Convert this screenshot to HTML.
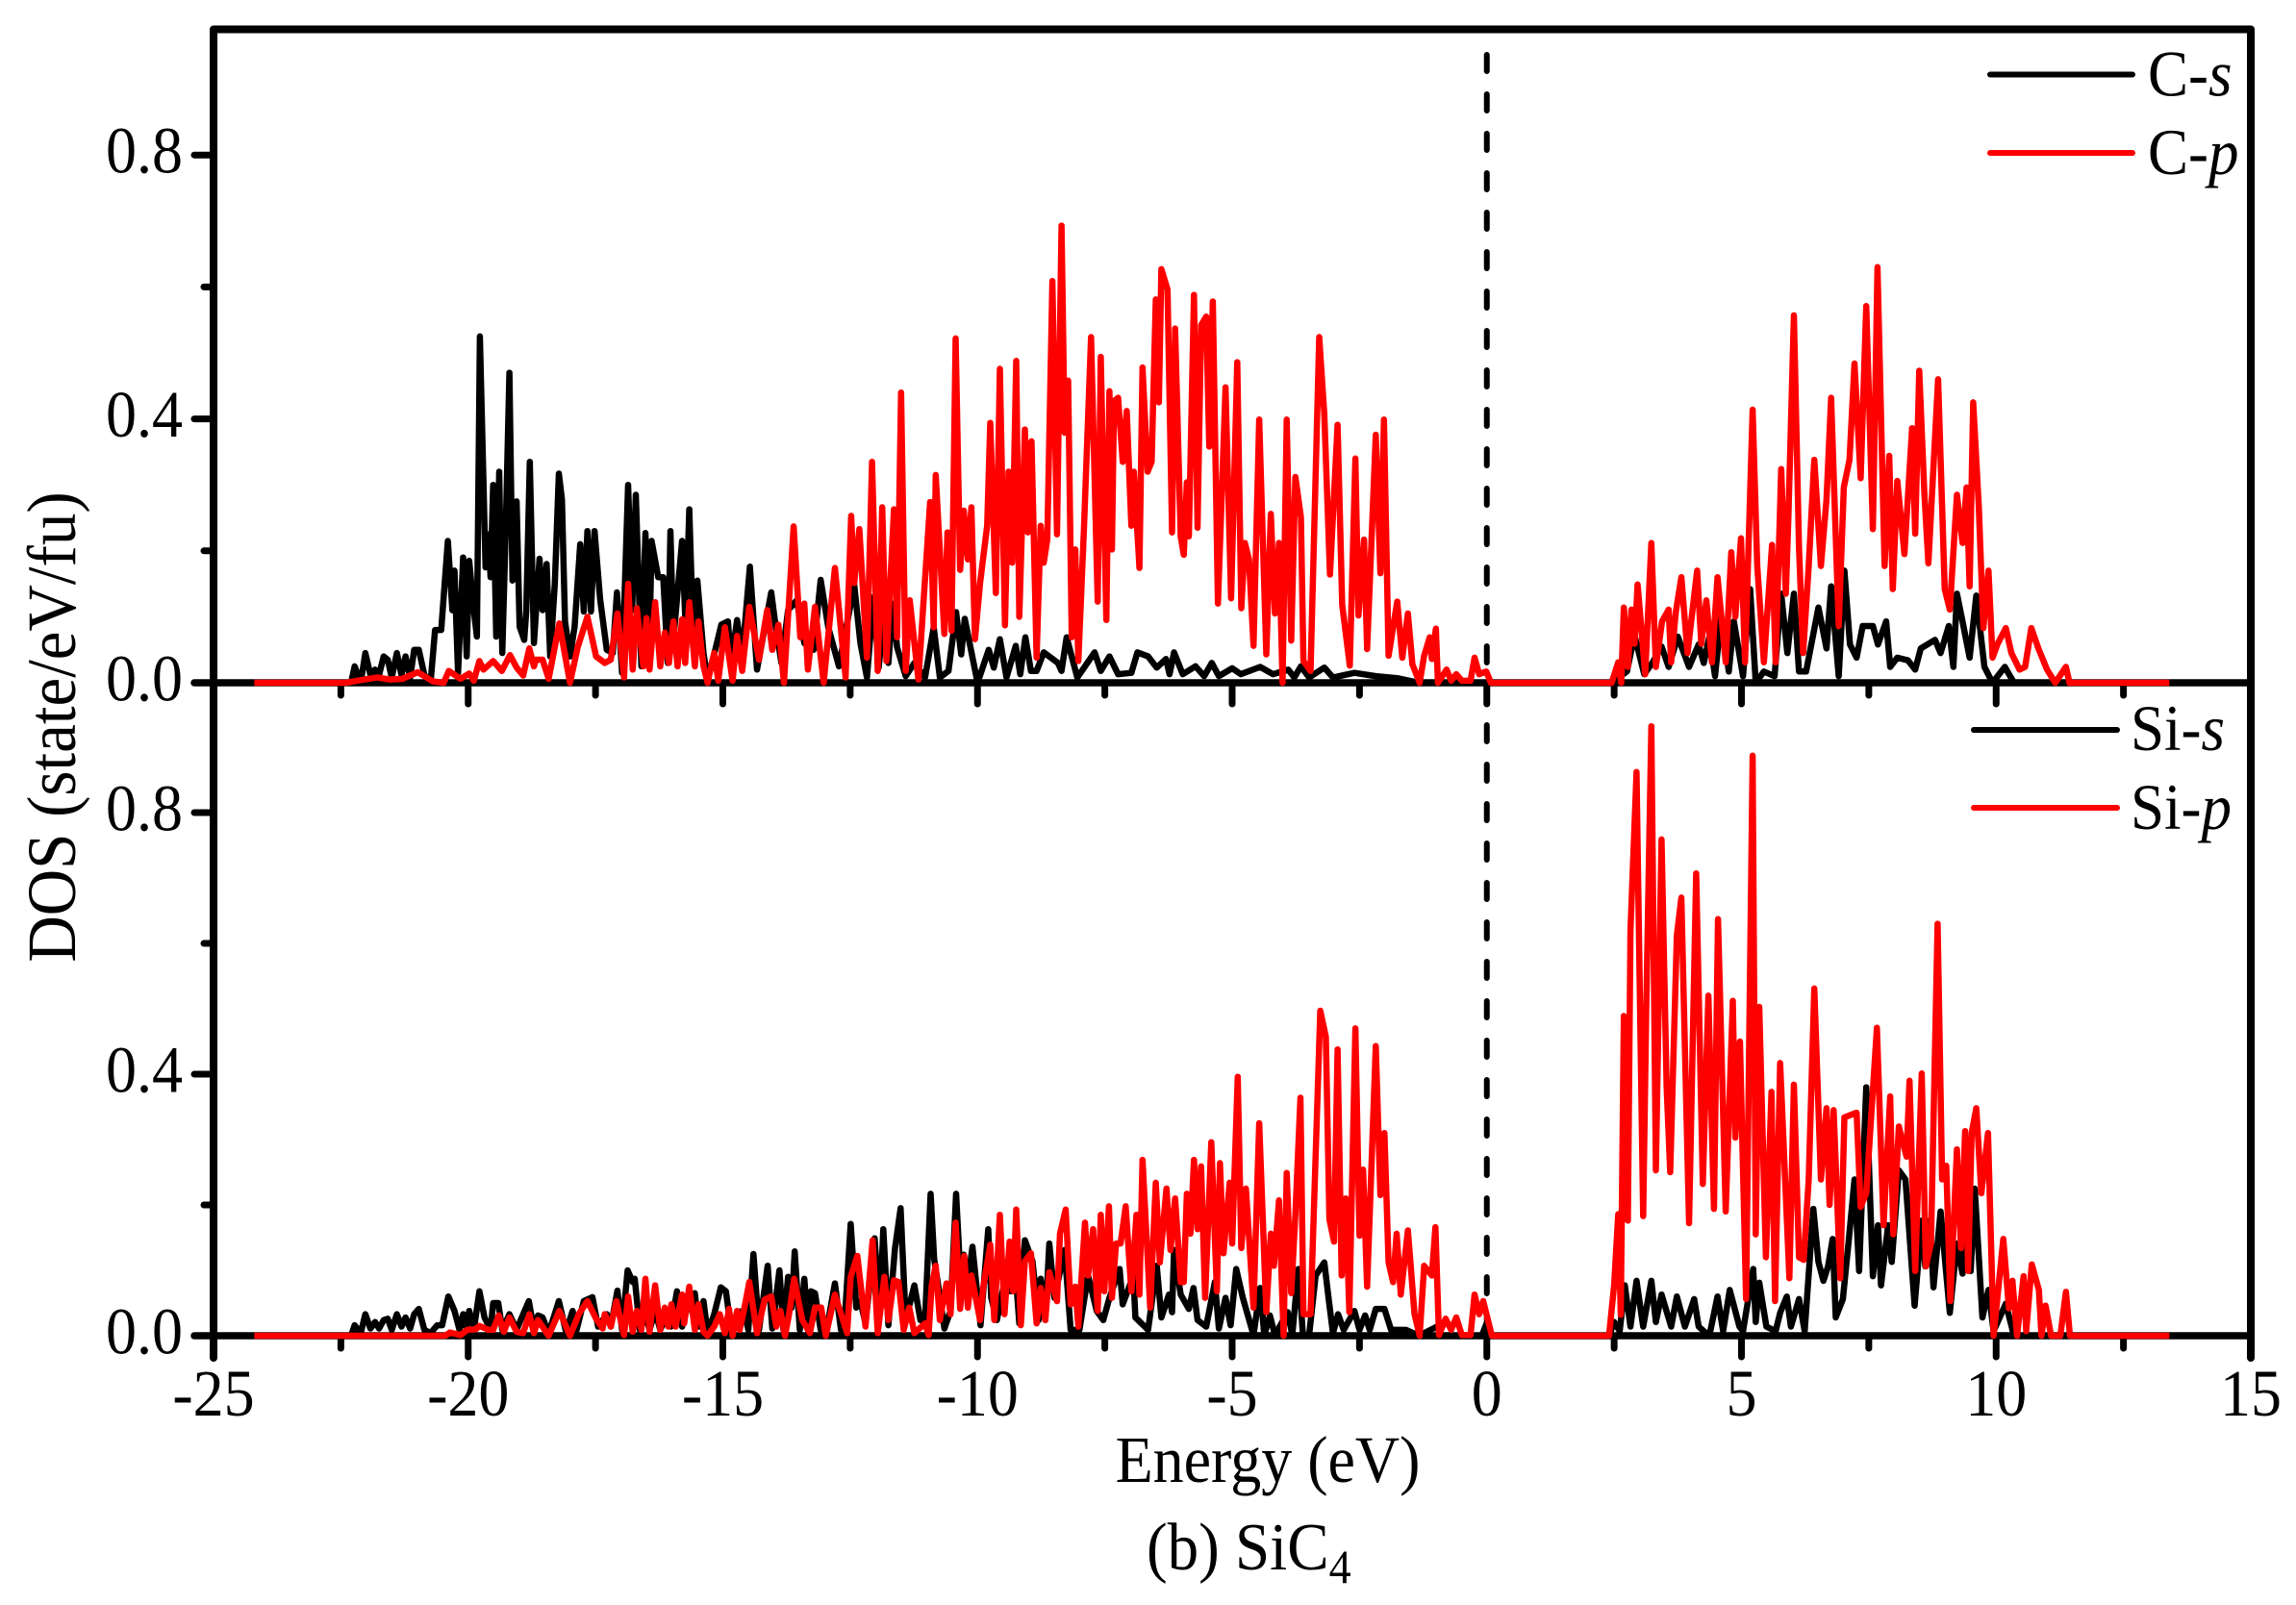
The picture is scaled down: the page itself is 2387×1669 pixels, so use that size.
<!DOCTYPE html>
<html lang="en">
<head>
<meta charset="utf-8">
<title>DOS of SiC4</title>
<style>
html,body{margin:0;padding:0;background:#fff;}
svg{display:block;}
text{font-family:"Liberation Serif",serif;fill:#000;}
</style>
</head>
<body>
<svg id="chart" xmlns="http://www.w3.org/2000/svg" width="2387" height="1669" viewBox="0 0 2387 1669">
  <rect x="0" y="0" width="2387" height="1669" fill="#fff"/>
  <g id="axes"></g>
  <g id="series"></g>
  <g>
    <line x1="2069" y1="77.5" x2="2217" y2="77.5" stroke="#000" stroke-width="6" stroke-linecap="round"/>
    <text transform="translate(2233,99.5) scale(1,1.07)" font-size="63">C-<tspan font-style="italic">s</tspan></text>
    <line x1="2069" y1="159" x2="2217" y2="159" stroke="#f00" stroke-width="6" stroke-linecap="round"/>
    <text transform="translate(2233,181) scale(1,1.07)" font-size="63">C-<tspan font-style="italic">p</tspan></text>
  </g>
  <g>
    <line x1="2052" y1="759" x2="2201" y2="759" stroke="#000" stroke-width="6" stroke-linecap="round"/>
    <text transform="translate(2215,780) scale(1,1.07)" font-size="63">Si-<tspan font-style="italic">s</tspan></text>
    <line x1="2052" y1="840" x2="2201" y2="840" stroke="#f00" stroke-width="6" stroke-linecap="round"/>
    <text transform="translate(2215,862) scale(1,1.07)" font-size="63">Si-<tspan font-style="italic">p</tspan></text>
  </g>
  <text transform="translate(78,756) rotate(-90) scale(1,1.07)" font-size="67" text-anchor="middle">DOS (state/eV/fu)</text>
  <text transform="translate(1318,1541) scale(1,1.07)" font-size="64" text-anchor="middle">Energy (eV)</text>
  <text transform="translate(1192,1632) scale(1,1.07)" font-size="65">(b) SiC<tspan font-size="46" dy="13">4</tspan></text>
</svg>
<script>
const xTickValues = [-25,-22.5,-20,-17.5,-15,-12.5,-10,-7.5,-5,-2.5,0,2.5,5,7.5,10,12.5,15];
const xTickLabels = ["-25","","-20","","-15","","-10","","-5","","0","","5","","10","","15"];
const yTickValues = [0,0.2,0.4,0.6,0.8];
const yTickLabels = ["0.0","","0.4","","0.8"];

const energyCs = [
-24.2,-22.3,-22.23,-22.11,-22.02,-21.92,-21.83,-21.75,-21.66,-21.58,
-21.5,-21.4,-21.31,-21.23,-21.14,-21.06,-20.97,-20.86,-20.74,-20.65,
-20.53,-20.4,-20.31,-20.27,-20.2,-20.1,-20.03,-19.98,-19.89,-19.83,
-19.77,-19.68,-19.66,-19.6,-19.56,-19.51,-19.45,-19.39,-19.33,-19.26,
-19.19,-19.13,-19.05,-18.99,-18.9,-18.86,-18.79,-18.71,-18.6,-18.54,
-18.46,-18.39,-18.3,-18.22,-18.16,-18.1,-18,-17.91,-17.8,-17.73,
-17.66,-17.59,-17.52,-17.41,-17.28,-17.16,-17.08,-16.98,-16.86,-16.78,
-16.71,-16.6,-16.52,-16.44,-16.4,-16.27,-16.17,-16.08,-16.03,-15.97,
-15.8,-15.73,-15.66,-15.58,-15.5,-15.38,-15.3,-15.15,-15.03,-14.9,
-14.84,-14.72,-14.62,-14.47,-14.33,-14.05,-13.97,-13.85,-13.72,-13.55,
-13.4,-13.22,-13.08,-12.93,-12.72,-12.42,-12.3,-12.17,-12.04,-11.94,
-11.83,-11.75,-11.66,-11.58,-11.41,-11.24,-11.03,-10.86,-10.74,-10.57,
-10.42,-10.32,-10.25,-10,-9.78,-9.68,-9.56,-9.43,-9.25,-9.16,
-9.06,-8.95,-8.84,-8.7,-8.42,-8.35,-8.25,-8.04,-7.7,-7.58,
-7.41,-7.24,-6.98,-6.86,-6.65,-6.48,-6.3,-6.23,-6.14,-5.97,
-5.72,-5.55,-5.4,-5.26,-5,-4.83,-4.45,-4.2,-3.9,-3.78,
-3.65,-3.49,-3.19,-3.02,-2.6,-2.18,-1.76,-1.33,2.45,2.75,
2.9,3.09,3.25,3.43,3.57,3.75,3.97,4.16,4.26,4.37,
4.48,4.6,4.75,4.85,5.03,5.17,5.28,5.44,5.65,5.78,
5.9,6.03,6.13,6.27,6.51,6.67,6.76,6.91,7.02,7.13,
7.26,7.38,7.58,7.68,7.84,7.92,8.06,8.27,8.41,8.52,
8.8,8.91,9.07,9.16,9.23,9.34,9.48,9.61,9.77,9.93,
10.17,10.35,13.4];
const dosCs = [
0,0,.025,0,.045,.012,.02,.012,.04,.035,
.008,.045,.012,.04,.008,.05,.05,.012,0,.08,
.08,.215,.11,.17,.015,.19,.04,.185,.11,.07,
.525,.24,.175,.225,.16,.30,.07,.32,.045,.24,
.47,.155,.275,.085,.065,.108,.335,.06,.188,.11,
.18,.04,.15,.317,.278,.093,.04,.085,.21,.108,
.23,.108,.23,.127,.05,.045,.137,.015,.30,.11,
.285,.025,.227,.065,.215,.16,.16,.03,.23,.065,
.215,.085,.263,.065,.155,.045,.005,.05,.088,.093,
.03,.095,.04,.176,.02,.137,.09,.03,.11,.125,
.06,.05,.156,.084,.025,.148,.06,.008,.13,.023,
.11,.03,.12,.054,.01,.03,.008,.084,.008,.018,
.107,.043,.097,0,.05,.023,.066,.008,.056,.013,
.069,.018,.018,.046,.03,.018,.069,.008,.046,.018,
.04,.013,.015,.046,.04,.023,.036,.013,.046,.013,
.025,.01,.03,.01,.022,.013,.024,.013,.02,.008,
.025,.008,.023,.008,.015,.01,.007,0,0,.017,
.072,.013,.03,.055,.024,.07,.024,.058,.03,.07,
.01,.10,.017,.093,.01,.142,0,.017,.01,.135,
.045,.135,.017,.017,.114,.052,.146,.01,.17,.058,
.038,.086,.086,.058,.093,.024,.038,.034,.02,.052,
.065,.045,.086,.024,.135,.093,.038,.132,.024,0,
.024,0,0];

const energyCp = [
-24.2,-22.4,-22.04,-21.79,-21.54,-21.29,-20.99,-20.69,-20.48,-20.38,
-20.15,-19.98,-19.89,-19.78,-19.7,-19.51,-19.34,-19.18,-19.05,-18.92,
-18.8,-18.71,-18.67,-18.54,-18.42,-18.21,-18,-17.85,-17.66,-17.49,
-17.32,-17.2,-17.07,-16.94,-16.86,-16.77,-16.69,-16.56,-16.5,-16.44,
-16.33,-16.23,-16.14,-16.06,-15.97,-15.89,-15.8,-15.74,-15.66,-15.55,
-15.48,-15.38,-15.3,-15.17,-15.09,-14.96,-14.81,-14.72,-14.62,-14.48,
-14.29,-14.13,-14.03,-13.91,-13.8,-13.61,-13.48,-13.4,-13.33,-13.19,
-13.02,-12.8,-12.59,-12.48,-12.42,-12.32,-12.17,-12.07,-11.96,-11.87,
-11.79,-11.64,-11.58,-11.5,-11.41,-11.33,-11.16,-10.93,-10.86,-10.82,
-10.65,-10.59,-10.51,-10.43,-10.34,-10.27,-10.19,-10.12,-10.05,-9.95,
-9.81,-9.75,-9.64,-9.56,-9.46,-9.39,-9.32,-9.24,-9.18,-9.07,
-9.01,-8.94,-8.84,-8.76,-8.7,-8.63,-8.53,-8.44,-8.35,-8.29,
-8.22,-8.15,-8.08,-8.02,-7.91,-7.77,-7.64,-7.58,-7.47,-7.41,
-7.36,-7.32,-7.24,-7.15,-7.07,-6.98,-6.93,-6.82,-6.76,-6.66,
-6.58,-6.5,-6.44,-6.39,-6.27,-6.18,-6.12,-6.01,-5.95,-5.89,
-5.85,-5.75,-5.68,-5.61,-5.51,-5.45,-5.38,-5.28,-5.13,-5.02,
-4.9,-4.82,-4.75,-4.67,-4.58,-4.47,-4.33,-4.24,-4.16,-4.08,
-4.01,-3.93,-3.84,-3.76,-3.65,-3.6,-3.46,-3.29,-3.19,-3.08,
-2.93,-2.84,-2.69,-2.58,-2.52,-2.41,-2.35,-2.18,-2.09,-2.02,
-1.93,-1.76,-1.66,-1.55,-1.46,-1.32,-1.23,-1.12,-1.08,-1,
-.96,-.79,-.7,-.6,-.49,-.32,-.24,-.15,-.01,.08,
2.45,2.58,2.64,2.69,2.77,2.84,2.9,2.96,3.11,3.23,
3.32,3.44,3.57,3.62,3.71,3.82,3.94,4.13,4.21,4.31,
4.42,4.53,4.69,4.8,4.88,4.99,5.07,5.22,5.31,5.44,
5.6,5.67,5.78,5.87,5.92,6.03,6.13,6.21,6.32,6.43,
6.56,6.67,6.76,6.91,7.01,7.12,7.22,7.34,7.45,7.58,
7.67,7.81,7.9,7.97,8.06,8.2,8.35,8.41,8.49,8.59,
8.67,8.86,8.99,9.09,9.23,9.34,9.42,9.48,9.55,9.66,
9.75,9.85,9.93,10.03,10.19,10.3,10.46,10.57,10.69,10.83,
11,11.16,11.37,11.44,13.4];
const dosCp = [
0,0,.005,.008,.005,.006,.016,.002,0,.018,
.006,.014,.003,.033,.02,.033,.018,.042,.023,.011,
.052,.025,.035,.035,.006,.09,0,.054,.10,.04,
.03,.035,.105,.008,.15,.02,.113,.025,.098,.02,
.122,.025,.076,.03,.093,.025,.096,.03,.122,.025,
.093,.025,0,.045,.003,.084,.003,.071,.018,.115,
.035,.11,.05,.088,0,.237,.069,.12,.02,.115,
0,.174,.008,.253,.151,.233,.038,.335,.018,.266,
.033,.263,.069,.44,.018,.125,.005,.274,.084,.315,
.074,.228,.079,.522,.171,.261,.187,.266,.066,.151,
.238,.394,.136,.476,.087,.32,.182,.488,.1,.384,
.228,.366,.038,.238,.182,.217,.609,.225,.693,.379,
.458,.069,.202,.033,.233,.524,.123,.494,.095,.442,
.202,.427,.432,.335,.412,.238,.32,.174,.478,.32,
.335,.581,.425,.627,.596,.228,.537,.222,.194,.304,
.222,.588,.235,.542,.555,.358,.578,.12,.448,.128,
.486,.113,.212,.187,.056,.399,.043,.256,.105,.212,
0,.399,.064,.312,.251,.033,.018,.524,.407,.164,
.391,.118,.026,.34,.102,.217,.051,.376,.166,.399,
.041,.123,.038,.105,.028,0,.041,.069,.036,.082,
0,.02,.003,.013,.003,.003,.038,.013,.017,0,
0,.031,0,.114,.024,.111,.059,.149,.013,.212,
.024,.093,.111,.031,.107,.16,.045,.17,.059,.125,
.031,.16,.031,.198,.1,.219,.031,.414,.177,.031,
.209,.031,.324,.135,.247,.557,.205,.045,.177,.338,
.177,.278,.432,.086,.296,.338,.484,.31,.571,.233,
.63,.177,.344,.142,.306,.195,.386,.226,.473,.289,
.181,.46,.142,.111,.285,.212,.296,.146,.425,.268,
.083,.17,.038,.059,.083,.045,.02,.024,.083,.052,
.02,0,.024,0,0];

const energySis = [
-24.2,-22.3,-22.23,-22.11,-22.02,-21.92,-21.83,-21.75,-21.66,-21.58,
-21.5,-21.4,-21.31,-21.23,-21.14,-21.06,-20.97,-20.86,-20.74,-20.61,
-20.51,-20.39,-20.27,-20.17,-20.1,-20.04,-19.98,-19.89,-19.78,-19.68,
-19.56,-19.51,-19.41,-19.33,-19.19,-19.05,-18.97,-18.81,-18.71,-18.63,
-18.54,-18.42,-18.22,-18.08,-17.95,-17.87,-17.73,-17.56,-17.45,-17.28,
-17.2,-17.07,-16.98,-16.87,-16.77,-16.73,-16.63,-16.52,-16.44,-16.33,
-16.23,-16.14,-16.02,-15.9,-15.8,-15.68,-15.55,-15.48,-15.38,-15.3,
-15.17,-15.04,-14.94,-14.83,-14.72,-14.58,-14.5,-14.4,-14.29,-14.12,
-14.03,-13.89,-13.81,-13.72,-13.65,-13.59,-13.49,-13.4,-13.32,-13.27,
-13.19,-13.08,-12.94,-12.8,-12.68,-12.6,-12.49,-12.38,-12.3,-12.2,
-12.02,-11.92,-11.85,-11.75,-11.62,-11.51,-11.41,-11.24,-11.12,-11.03,
-10.92,-10.85,-10.78,-10.65,-10.53,-10.42,-10.33,-10.27,-10.19,-10.1,
-9.94,-9.79,-9.73,-9.62,-9.47,-9.35,-9.24,-9.18,-9.07,-8.92,
-8.8,-8.76,-8.67,-8.59,-8.49,-8.29,-8.17,-8,-7.83,-7.66,
-7.53,-7.41,-7.21,-7.15,-6.94,-6.9,-6.65,-6.48,-6.39,-6.24,
-6.18,-6.14,-6.01,-5.85,-5.76,-5.68,-5.51,-5.34,-5.26,-5.13,
-5.03,-4.92,-4.79,-4.58,-4.45,-4.37,-4.26,-4.16,-3.91,-3.82,
-3.7,-3.61,-3.49,-3.36,-3.19,-3.1,-3.02,-2.92,-2.81,-2.6,
-2.5,-2.39,-2.3,-2.18,-2.01,-1.88,-1.59,-1.33,-.98,-.9,
-.1,0,.1,2.4,2.5,2.61,2.71,2.82,2.94,3.07,
3.23,3.32,3.43,3.62,3.73,3.89,4.07,4.16,4.26,4.37,
4.53,4.64,4.77,4.96,5.03,5.23,5.28,5.35,5.49,5.67,
5.76,5.89,5.97,6.13,6.24,6.41,6.51,6.61,6.7,6.79,
6.85,6.99,7.1,7.22,7.31,7.45,7.58,7.68,7.74,7.88,
7.95,8.09,8.22,8.4,8.54,8.61,8.7,8.77,8.91,9.09,
9.23,9.34,9.41,9.5,9.58,9.73,9.85,9.95,10.19,10.35,
13.4];
const dosSis = [
0,0,.016,.004,.033,.011,.021,.011,.024,.026,
.009,.033,.014,.028,.011,.033,.041,.009,.004,.016,
.016,.06,.038,.009,.033,.014,.038,.009,.068,.028,
.009,.05,.05,.009,.033,.009,.024,.053,.009,.031,
.028,.004,.053,.006,.038,.009,.053,.059,.014,.033,
.014,.069,.009,.1,.082,.087,.009,.033,.009,.038,
.009,.024,.014,.068,.014,.048,.065,.014,.053,.004,
.033,.074,.068,.004,.036,.038,.009,.125,.009,.107,
.011,.1,.009,.09,.043,.129,.009,.087,.004,.068,
.065,.009,.019,.08,.009,.033,.171,.043,.053,.019,
.149,.033,.163,.016,.134,.195,.024,.077,.024,.024,
.217,.117,.082,.011,.038,.217,.082,.124,.082,.136,
.016,.163,.058,.024,.082,.068,.082,.019,.146,.114,
.024,.087,.024,.141,.058,.131,.009,.009,.092,.038,
.024,.058,.102,.048,.092,.028,.009,.107,.028,.063,
.036,.131,.063,.041,.073,.024,.014,.082,.011,.058,
.016,.102,.058,.001,.073,.001,.031,.001,.036,.001,
.102,.001,.001,.092,.112,.053,.004,.033,.009,.038,
.009,.031,.009,.041,.041,.009,.009,0,.014,0,
0,.02,0,0,.021,.007,.077,.014,.084,.014,
.084,.021,.063,.014,.06,.014,.056,.014,.007,0,
.06,.007,.07,.014,.007,.102,.021,.081,.014,.007,
.035,.06,.014,.056,.007,.194,.113,.084,.106,.148,
.028,.056,.141,.239,.099,.38,.091,.169,.077,.169,
.113,.253,.239,.046,.176,.106,.176,.074,.19,.035,
.141,.095,.148,.099,.225,.028,.07,.007,.049,0,
0];

const energySip = [
-24.2,-20.45,-20.36,-20.15,-20.02,-19.85,-19.78,-19.6,-19.51,-19.4,
-19.3,-19.19,-19.05,-18.92,-18.8,-18.71,-18.63,-18.42,-18.21,-18,
-17.83,-17.66,-17.49,-17.36,-17.32,-17.2,-17.09,-16.94,-16.86,-16.77,
-16.69,-16.6,-16.52,-16.44,-16.33,-16.23,-16.14,-16.07,-16.01,-15.93,
-15.8,-15.76,-15.66,-15.55,-15.48,-15.38,-15.3,-15.17,-15.06,-14.96,
-14.88,-14.81,-14.72,-14.67,-14.58,-14.48,-14.33,-14.18,-14.05,-13.95,
-13.87,-13.78,-13.7,-13.6,-13.44,-13.29,-13.19,-13.07,-12.98,-12.8,
-12.56,-12.49,-12.36,-12.2,-12.06,-11.96,-11.83,-11.75,-11.64,-11.55,
-11.45,-11.34,-11.24,-11.03,-10.96,-10.9,-10.82,-10.74,-10.61,-10.53,
-10.43,-10.34,-10.26,-10.19,-10.12,-9.95,-9.89,-9.75,-9.67,-9.56,
-9.47,-9.37,-9.3,-9.24,-9.15,-9.07,-8.95,-8.84,-8.76,-8.67,
-8.59,-8.44,-8.38,-8.27,-8.17,-8.08,-8.02,-7.89,-7.83,-7.73,
-7.64,-7.58,-7.51,-7.42,-7.36,-7.28,-7.19,-7.09,-6.98,-6.88,
-6.82,-6.76,-6.61,-6.5,-6.42,-6.29,-6.21,-6.12,-6.01,-5.95,
-5.89,-5.82,-5.75,-5.68,-5.61,-5.53,-5.41,-5.3,-5.24,-5.17,
-5.05,-5,-4.89,-4.82,-4.73,-4.58,-4.47,-4.33,-4.24,-4.18,
-4.08,-3.99,-3.93,-3.84,-3.76,-3.66,-3.6,-3.46,-3.27,-3.16,
-3.09,-3,-2.93,-2.85,-2.77,-2.7,-2.58,-2.5,-2.43,-2.35,
-2.18,-2.09,-2.01,-1.93,-1.84,-1.77,-1.69,-1.55,-1.42,-1.32,
-1.23,-1.08,-1.01,-.94,-.81,-.7,-.6,-.49,-.32,-.24,
-.15,-.07,.1,2.4,2.5,2.58,2.63,2.69,2.77,2.82,
2.94,3.07,3.13,3.23,3.32,3.43,3.53,3.6,3.73,3.82,
3.97,4.11,4.24,4.35,4.46,4.54,4.69,4.83,4.88,4.97,
5.09,5.22,5.28,5.35,5.48,5.59,5.66,5.76,5.94,6.03,
6.13,6.22,6.32,6.43,6.56,6.67,6.73,6.81,6.94,7.02,
7.26,7.34,7.45,7.66,7.79,7.92,7.98,8.09,8.24,8.3,
8.41,8.54,8.62,8.72,8.85,8.94,9.02,9.1,9.23,9.31,
9.39,9.45,9.52,9.61,9.71,9.84,9.95,10.14,10.25,10.32,
10.41,10.54,10.59,10.7,10.84,10.89,10.97,11.08,11.26,11.37,
11.45,13.4];
const dosSip = [
0,0,.005,.001,.009,.01,.015,.009,.009,.031,
.006,.028,.006,.004,.033,.004,.024,0,.038,0,
.033,.053,.026,.011,.033,.014,.053,.001,.06,.006,
.038,.009,.087,.006,.077,.009,.043,.014,.048,.014,
.063,.019,.075,.009,.048,.006,0,.014,.033,.004,
.041,0,.038,.009,.041,.082,.004,.055,.06,.014,
.038,0,.033,.087,.024,.004,.043,.043,0,.063,
.004,.09,.122,.014,.146,.004,.09,.024,.085,.082,
.009,.043,.004,.019,.001,.077,.107,.024,.08,.033,
.173,.041,.122,.043,.092,.024,.073,.139,.024,.185,
.033,.144,.068,.193,.016,.114,.126,.019,.073,.024,
.097,.053,.156,.193,.048,.075,.014,.173,.092,.163,
.038,.185,.068,.198,.058,.141,.141,.198,.068,.185,
.063,.269,.043,.234,.112,.225,.131,.21,.082,.082,
.217,.156,.269,.163,.259,.058,.296,.068,.264,.126,
.234,.141,.396,.134,.225,.043,.325,.036,.156,.107,
.207,0,.249,.065,.185,.364,.033,.033,.497,.457,
.178,.144,.438,.092,.21,.036,.47,.153,.254,.075,
.443,.215,.31,.112,.082,.156,.063,.161,.033,0,
.107,.092,.166,.001,.026,.009,.028,.001,.001,.063,
.033,.053,0,0,.077,.186,.032,.489,.176,.62,
.862,.183,.5,.932,.253,.759,.38,.25,.612,.67,
.172,.707,.232,.52,.194,.637,.19,.512,.303,.45,
.056,.887,.155,.503,.12,.373,.053,.417,.088,.384,
.12,.116,.239,.531,.239,.348,.2,.345,.088,.334,
.341,.197,.218,.471,.169,.366,.155,.32,.274,.39,
.099,.401,.106,.141,.63,.239,.26,.053,.285,.134,
.313,.099,.31,.348,.218,.31,0,.148,.042,.084,
0,.091,.007,.109,.07,0,.046,0,0,.067,
0,0];

const SVGNS = "http://www.w3.org/2000/svg";
const xAt = e => 1545.75 + 52.95 * e;
const yTop = d => 710 - 686 * d;
const yBottom = d => 1389 - 680 * d;
const axes = document.getElementById("axes");
const seriesLayer = document.getElementById("series");

function makeLine(x1, y1, x2, y2, w, cap) {
  const l = document.createElementNS(SVGNS, "line");
  l.setAttribute("x1", x1);
  l.setAttribute("y1", y1);
  l.setAttribute("x2", x2);
  l.setAttribute("y2", y2);
  l.setAttribute("stroke", "#000");
  l.setAttribute("stroke-width", w);
  l.setAttribute("stroke-linecap", cap || "round");
  axes.appendChild(l);
  return l;
}

const framePath = document.createElementNS(SVGNS, "path");
framePath.setAttribute("d", "M222 1412V30.5H2340V1412");
framePath.setAttribute("fill", "none");
framePath.setAttribute("stroke", "#000");
framePath.setAttribute("stroke-width", "8");
framePath.setAttribute("stroke-linejoin", "round");
framePath.setAttribute("stroke-linecap", "round");


axes.appendChild(framePath);

const midAxis = makeLine(202, yTop(0), 2340, yTop(0), 7.5);


const bottomAxis = makeLine(202, yBottom(0), 2340, yBottom(0), 7.5);



xTickValues.forEach((v, i) => {
  const len = xTickLabels[i] === "" ? 13 : 22;
  const t1 = makeLine(xAt(v), yTop(0), xAt(v), yTop(0) + len, 7);
  
  
  const t2 = makeLine(xAt(v), yBottom(0), xAt(v), yBottom(0) + len, 7);
  
  
  if (xTickLabels[i] !== "") {
    const tx = document.createElementNS(SVGNS, "text");
    tx.setAttribute("transform", "translate(" + xAt(v) + ",1472) scale(1,1.07)");
    tx.setAttribute("font-size", "64");
    tx.setAttribute("text-anchor", "middle");
    tx.textContent = xTickLabels[i];
    
    
    axes.appendChild(tx);
  }
});

[yTop, yBottom].forEach(scale => {
  yTickValues.forEach((v, i) => {
    const left = yTickLabels[i] === "" ? 212 : 202;
    const t = makeLine(left, scale(v), 222, scale(v), 7);
    
    
    if (yTickLabels[i] !== "") {
      const tx = document.createElementNS(SVGNS, "text");
      tx.setAttribute("transform", "translate(190," + (scale(v) + 18.5) + ") scale(1,1.07)");
      tx.setAttribute("font-size", "64");
      tx.setAttribute("text-anchor", "end");
      tx.textContent = yTickLabels[i];
      
      
      axes.appendChild(tx);
    }
  });
});

const fermiLine = makeLine(xAt(0), 57, xAt(0), 1388, 6);
fermiLine.setAttribute("stroke-dasharray", "17 24");



function makeSeries(energies, values, scale, color) {
  const n = Math.min(energies.length, values.length);
  let d = "";
  for (let i = 0; i < n; i++) {
    d += (i ? "L" : "M") + xAt(energies[i]).toFixed(1) + " " + scale(values[i]).toFixed(1);
  }
  const p = document.createElementNS(SVGNS, "path");
  p.setAttribute("d", d);
  p.setAttribute("fill", "none");
  p.setAttribute("stroke", color);
  p.setAttribute("stroke-width", "6.5");
  p.setAttribute("stroke-linejoin", "round");
  p.setAttribute("stroke-linecap", "butt");
  seriesLayer.appendChild(p);
  return p;
}

const lineCs = makeSeries(energyCs, dosCs, yTop, "#000");


const lineCp = makeSeries(energyCp, dosCp, yTop, "#f00");


const lineSis = makeSeries(energySis, dosSis, yBottom, "#000");


const lineSip = makeSeries(energySip, dosSip, yBottom, "#f00");


</script>
</body>
</html>
